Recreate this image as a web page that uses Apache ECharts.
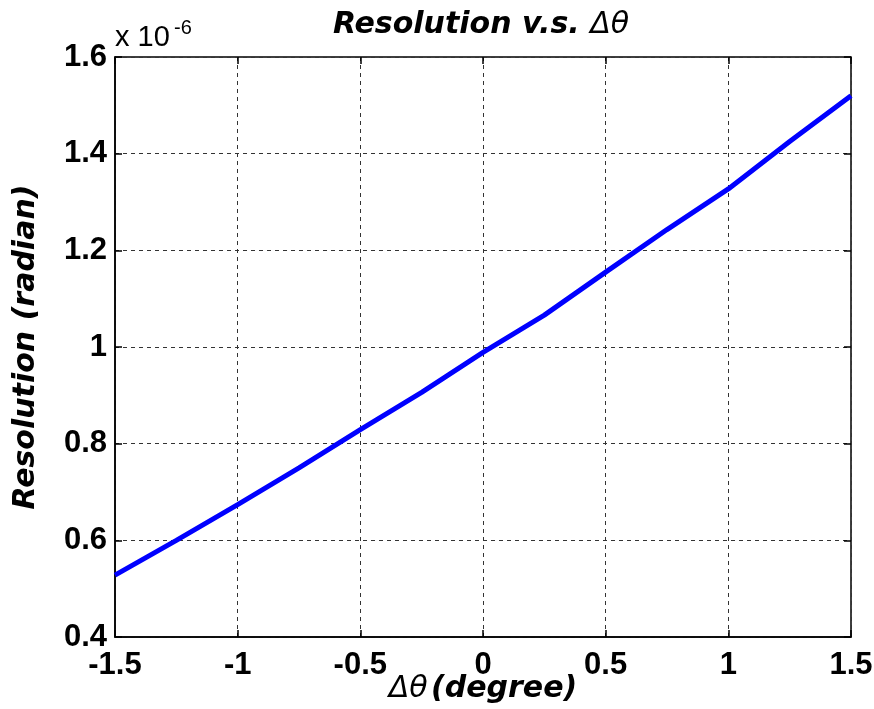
<!DOCTYPE html>
<html><head><meta charset="utf-8">
<script src="https://cdn.jsdelivr.net/npm/echarts@6/dist/echarts.min.js"></script>
<style>html,body{margin:0;padding:0;background:#fff}#c{width:874px;height:709px}</style>
</head><body><div id="c"></div>
<script>
const xValues = [-1.5, -1.25, -1.0, -0.75, -0.5, -0.25, 0, 0.25, 0.5, 0.75, 1.0, 1.25, 1.5];
const resolution = [0.528, 0.600, 0.674, 0.750, 0.829, 0.906, 0.989, 1.066, 1.155, 1.243, 1.327, 1.425, 1.520];
const xTicks = [-1.5, -1, -0.5, 0, 0.5, 1, 1.5];
const yTicks = [0.4, 0.6, 0.8, 1, 1.2, 1.4, 1.6];

const chart = echarts.init(document.getElementById('c'));
const F = 'Liberation Sans, Arial, sans-serif';
const W = 'DejaVu Sans, sans-serif';
const gridLine = {show: true, lineStyle: {color: '#333', type: [4, 4], width: 1}};
const tick = {show: true, inside: true, length: 7, lineStyle: {color: '#000', width: 1.5}};
const nameRich = {
  a: {fontFamily: W, fontSize: 30, fontWeight: 'bold', fontStyle: 'italic', color: '#000'},
  b: {fontFamily: W, fontSize: 30, fontWeight: 'normal', fontStyle: 'italic', color: '#000'}
};
chart.setOption({
  animation: false,
  backgroundColor: '#fff',
  title: {
    text: '{a|Resolution v.s. }{b|Δθ}',
    left: 476, top: 5, textAlign: 'center',
    textStyle: {rich: nameRich}
  },
  graphic: [
    {type: 'text', x: 115, y: 52, style: {text: 'x 10', fontFamily: F, fontSize: 29, fill: '#000', verticalAlign: 'bottom'}},
    {type: 'text', x: 174, y: 38, style: {text: '-6', fontFamily: F, fontSize: 20, fill: '#000', verticalAlign: 'bottom'}}
  ],
  grid: {left: 115, right: 23, top: 57, bottom: 72, show: true, borderColor: '#000', borderWidth: 1.5,
    containLabel: false, outerBoundsMode: 'none'},
  xAxis: [{
    type: 'value', min: -1.5, max: 1.5, interval: 0.5,
    axisLine: {show: true, onZero: false, lineStyle: {color: '#000', width: 1.5}},
    axisTick: tick, splitLine: gridLine,
    axisLabel: {color: '#000', fontFamily: F, fontSize: 31, fontWeight: 'bold', margin: 13,
      formatter: v => { const t = xTicks.find(k => Math.abs(k - v) < 1e-9); return t === undefined ? '' : String(t); }},
    name: '{b|Δθ} {a|(degree)}', nameLocation: 'middle', nameGap: 37, nameMoveOverlap: false,
    nameTextStyle: {rich: nameRich}
  }, {
    type: 'value', position: 'top', min: -1.5, max: 1.5, interval: 0.5,
    axisLine: {show: false, onZero: false}, axisTick: tick, axisLabel: {show: false}, splitLine: {show: false}
  }],
  yAxis: [{
    type: 'value', min: 0.4, max: 1.6, interval: 0.2,
    axisLine: {show: true, onZero: false, lineStyle: {color: '#000', width: 1.5}},
    axisTick: tick, splitLine: gridLine,
    axisLabel: {color: '#000', fontFamily: F, fontSize: 31, fontWeight: 'bold', margin: 8,
      formatter: v => { const t = yTicks.find(k => Math.abs(k - v) < 1e-9); return t === undefined ? '' : String(t); }},
    name: 'Resolution (radian)', nameLocation: 'middle', nameGap: 74, nameMoveOverlap: false,
    nameTextStyle: {fontFamily: W, fontSize: 30, fontWeight: 'bold', fontStyle: 'italic', color: '#000'}
  }, {
    type: 'value', position: 'right', min: 0.4, max: 1.6, interval: 0.2,
    axisLine: {show: false, onZero: false}, axisTick: tick, axisLabel: {show: false}, splitLine: {show: false}
  }],
  series: [{
    type: 'line', xAxisIndex: 0, yAxisIndex: 0,
    data: xValues.map((x, i) => [x, resolution[i]]),
    showSymbol: false, smooth: false,
    lineStyle: {color: '#0000ff', width: 5}
  }]
});
</script></body></html>
